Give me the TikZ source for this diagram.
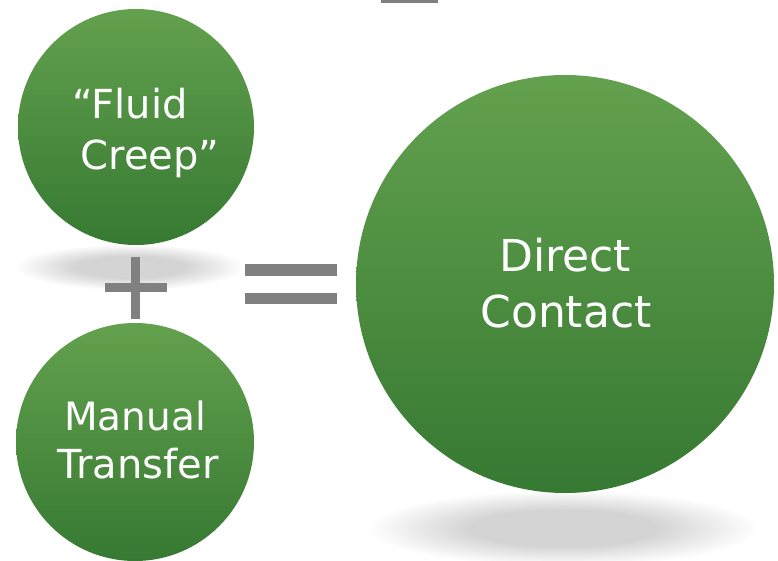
\documentclass[tikz,border=0pt]{standalone}
\usepackage{fontspec}
\setmainfont{DejaVu Sans}
\definecolor{gtop}{RGB}{99,161,78}
\definecolor{gbot}{RGB}{54,121,50}
\definecolor{shc}{RGB}{212,212,212}
\definecolor{signgray}{RGB}{128,128,128}
\pgfdeclareradialshading{softshadow}{\pgfpoint{0bp}{0bp}}{color(0bp)=(shc); color(12bp)=(shc); color(25bp)=(white); color(50bp)=(white)}
\tikzset{
  ball/.style={circle, inner sep=0pt, top color=gtop, bottom color=gbot, draw=none},
  label/.style={text=white, anchor=base, inner sep=0pt},
  sign/.style={fill=signgray, draw=none}
}
\begin{document}
\begin{tikzpicture}[x=1pt,y=1pt]
\useasboundingbox (0,0) rectangle (778,560);
\fill[white] (0,0) rectangle (778,560);
% shadows
\shade[shading=softshadow] (130,293) ellipse [x radius=115pt, y radius=23pt];
\shade[shading=softshadow] (563,32) ellipse [x radius=195pt, y radius=38pt];
% top partial sign
\fill[sign] (381,557) rectangle (438,560);
% circles
\node[ball, minimum size=236pt] (fc) at (136,433) {};
\node[ball, minimum size=238pt] (mt) at (135,118) {};
\node[ball, minimum size=418pt] (dc) at (565,276) {};
% texts
\node[label, font=\fontsize{40}{46}\selectfont] (t1) at (130,441) {“Fluid};
\node[label, font=\fontsize{40}{46}\selectfont] (t2) at (150,390) {Creep”};
\node[label, font=\fontsize{39}{46}\selectfont] (t3) at (135,130) {Manual};
\node[label, font=\fontsize{40}{46}\selectfont] (t4) at (138,82) {Transfer};
\node[label, font=\fontsize{44}{52}\selectfont] (t5) at (565,288) {Direct};
\node[label, font=\fontsize{44}{52}\selectfont] (t6) at (566,233) {Contact};
% plus
\fill[sign] (131,241) rectangle (140,303);
\fill[sign] (105,268) rectangle (167,277);
% equals
\fill[sign] (245,284) rectangle (337,296);
\fill[sign] (245,256) rectangle (337,267);
\end{tikzpicture}
\end{document}
